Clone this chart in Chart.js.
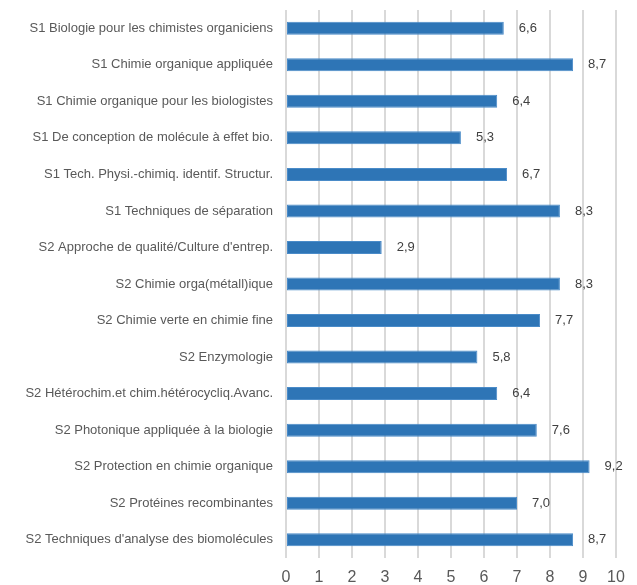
<!DOCTYPE html>
<html>
<head>
<meta charset="utf-8">
<script src="https://cdn.jsdelivr.net/npm/chart.js@4/dist/chart.umd.min.js"></script>
<style>
  html, body { margin: 0; padding: 0; background: #fff; }
  #wrap { width: 637px; height: 585px; position: relative; }
</style>
</head>
<body>
<div id="wrap"><canvas id="chart"></canvas></div>
<script>
const categories = [
    'S1 Biologie pour les chimistes organiciens',
    'S1 Chimie organique appliquée',
    'S1 Chimie organique pour les biologistes',
    'S1 De conception de molécule à effet bio.',
    'S1 Tech. Physi.-chimiq. identif. Structur.',
    'S1 Techniques de séparation',
    "S2 Approche de qualité/Culture d'entrep.",
    'S2 Chimie orga(métall)ique',
    'S2 Chimie verte en chimie fine',
    'S2 Enzymologie',
    'S2 Hétérochim.et chim.hétérocycliq.Avanc.',
    'S2 Photonique appliquée à la biologie',
    'S2 Protection en chimie organique',
    'S2 Protéines recombinantes',
    "S2 Techniques d'analyse des biomolécules"
];
const scores = [6.6, 8.7, 6.4, 5.3, 6.7, 8.3, 2.9, 8.3, 7.7, 5.8, 6.4, 7.6, 9.2, 7.0, 8.7];
const xTicks = [0, 1, 2, 3, 4, 5, 6, 7, 8, 9, 10];

const fontFamily = '"Liberation Sans", Arial, sans-serif';
const textColor = '#595959';

const valueLabels = {
    id: 'valueLabels',
    afterDatasetsDraw(chart) {
        const ctx = chart.ctx;
        const meta = chart.getDatasetMeta(0);
        ctx.save();
        ctx.font = '13px ' + fontFamily;
        ctx.fillStyle = '#404040';
        ctx.textAlign = 'left';
        ctx.textBaseline = 'middle';
        meta.data.forEach((bar, i) => {
            ctx.fillText(scores[i].toFixed(1).replace('.', ','), bar.x + 15, bar.y);
        });
        ctx.restore();
    }
};

new Chart(document.getElementById('chart').getContext('2d'), {
    type: 'bar',
    data: {
        labels: categories,
        datasets: [{
            data: scores,
            backgroundColor: '#2E75B6',
            borderColor: '#4A8BC8',
            borderWidth: 1,
            borderSkipped: false,
            categoryPercentage: 1,
            barPercentage: 0.356
        }]
    },
    options: {
        indexAxis: 'y',
        responsive: true,
        maintainAspectRatio: false,
        animation: false,
        layout: { padding: { top: 0, right: 21, bottom: 0, left: 0 } },
        plugins: {
            legend: { display: false },
            tooltip: { enabled: false }
        },
        scales: {
            x: {
                min: 0,
                max: 10,
                afterBuildTicks: (axis) => { axis.ticks = xTicks.map(v => ({ value: v })); },
                afterFit: (axis) => { axis.height = 27; },
                grid: { color: '#d9d9d9', lineWidth: 2, drawTicks: false },
                border: { display: false },
                ticks: {
                    color: textColor,
                    padding: 10,
                    font: { family: fontFamily, size: 16 }
                }
            },
            y: {
                grid: { display: false },
                border: { display: false },
                afterFit: (axis) => {
                    axis.width = 286;
                    axis.paddingTop = 10;
                    axis.paddingBottom = 0;
                },
                ticks: {
                    color: textColor,
                    padding: 5,
                    font: { family: fontFamily, size: 13 }
                }
            }
        }
    },
    plugins: [valueLabels]
});
</script>
</body>
</html>
